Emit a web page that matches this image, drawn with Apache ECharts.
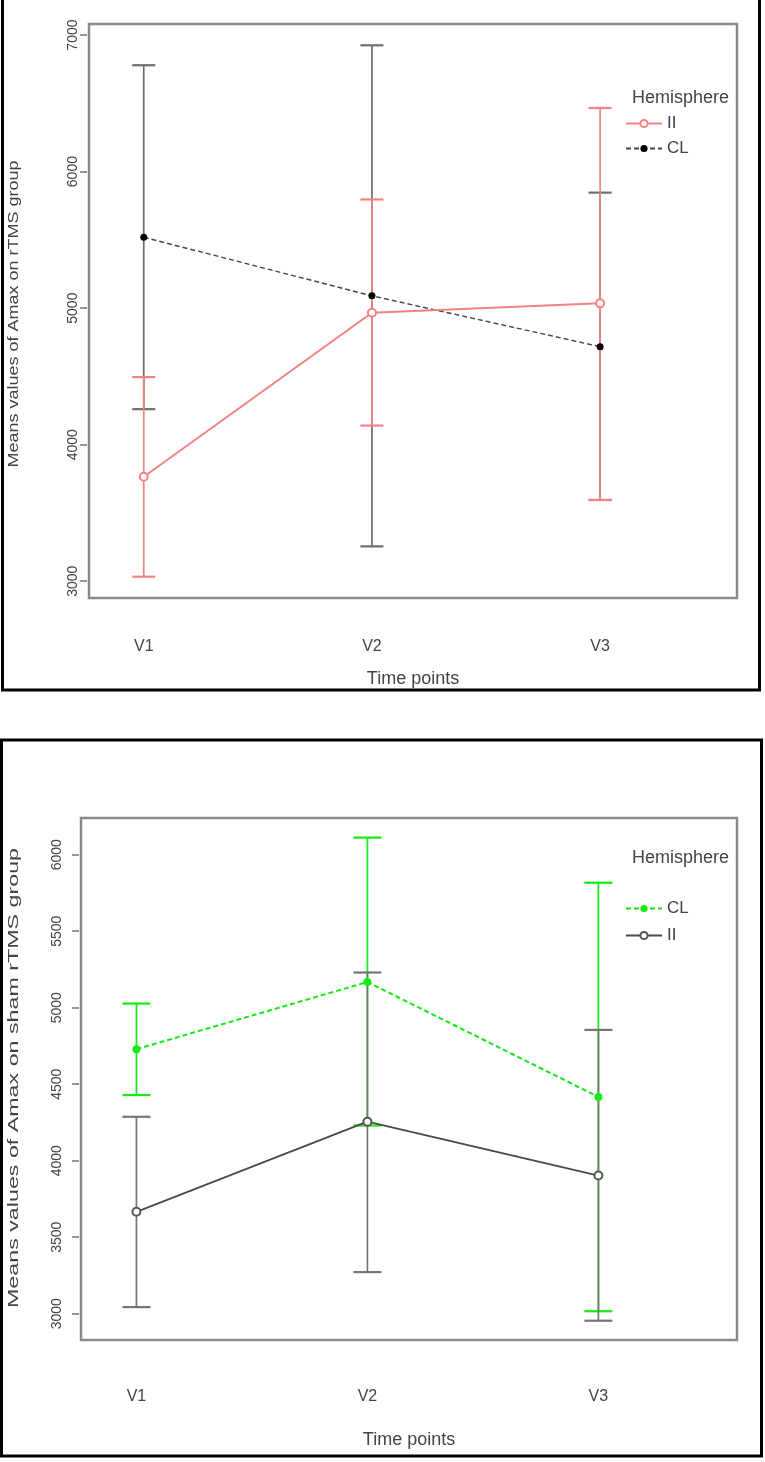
<!DOCTYPE html>
<html>
<head>
<meta charset="utf-8">
<script src="https://cdn.jsdelivr.net/npm/echarts@6/dist/echarts.min.js"></script>
<style>
html,body{margin:0;padding:0;background:#fff;}
#chart{width:765px;height:1462px;}
</style>
</head>
<body>
<div id="chart"></div>
<script>
// ---- data ----
const categories = ['V1', 'V2', 'V3'];
const yTicksTop = [3000, 4000, 5000, 6000, 7000];
const yTicksBottom = [3000, 3500, 4000, 4500, 5000, 5500, 6000];
const titleTop = 'Means values of Amax on rTMS group';
const titleBottom = 'Means values of Amax on sham rTMS group';

// Top panel (rTMS group)
const topII_mean  = [3765, 4966, 5035];
const topII_lower = [3033, 4140, 3595];
const topII_upper = [4495, 5796, 6466];
const topCL_mean  = [5519, 5090, 4718];
const topCL_lower = [4260, 3255, 3595];
const topCL_upper = [6779, 6925, 5846];

// Bottom panel (sham rTMS group)
const botCL_mean  = [4729, 5168, 4417];
const botCL_lower = [4429, 4230, 3016];
const botCL_upper = [5027, 6112, 5817];
const botII_mean  = [3666, 4255, 3903];
const botII_lower = [3043, 3272, 2954];
const botII_upper = [4287, 5230, 4855];

// ---- helpers ----
const FONT = "'Liberation Sans', Arial, sans-serif";
const TXT = '#444';
const PINK = '#F58282';
const GREEN = '#14EA14';

function pts(mean) { return mean.map((v, i) => [i + 1, v]); }
function errRows(lo, hi) { return lo.map((v, i) => [i + 1, v, hi[i]]); }

function errSeries(name, gridIdx, lo, hi, color, hw) {
  return {
    type: 'custom', name: name, xAxisIndex: gridIdx, yAxisIndex: gridIdx,
    data: errRows(lo, hi), encode: { x: 0, y: [1, 2] }, clip: false,
    renderItem: function (params, api) {
      const x = api.value(0), a = api.coord([x, api.value(1)]), b = api.coord([x, api.value(2)]);
      const s = { stroke: color, lineWidth: 1.7, fill: null };
      const c = { stroke: color, lineWidth: 2.2, fill: null };
      return { type: 'group', children: [
        { type: 'line', shape: { x1: a[0], y1: a[1], x2: b[0], y2: b[1] }, style: s },
        { type: 'line', shape: { x1: a[0] - hw, y1: a[1], x2: a[0] + hw, y2: a[1] }, style: c },
        { type: 'line', shape: { x1: b[0] - hw, y1: b[1], x2: b[0] + hw, y2: b[1] }, style: c }
      ]};
    }
  };
}

function xAxisDef(gridIdx, labelMargin, nameGap) {
  return {
    type: 'value', gridIndex: gridIdx, min: 0.76, max: 3.6,
    axisLine: { show: false }, axisTick: { show: false }, splitLine: { show: false },
    axisLabel: { customValues: [1, 2, 3], formatter: v => categories[Math.round(v) - 1] || '',
      fontSize: 16, color: TXT, fontFamily: FONT, margin: labelMargin },
    name: 'Time points', nameLocation: 'middle', nameGap: nameGap,
    nameTextStyle: { fontSize: 18, color: TXT, fontFamily: FONT }
  };
}

function yAxisDef(gridIdx, min, max, ticks, labelMargin) {
  return {
    type: 'value', gridIndex: gridIdx, min: min, max: max, offset: 2,
    axisLine: { show: false }, splitLine: { show: false },
    axisTick: { show: true, customValues: ticks, length: 7, lineStyle: { color: '#777', width: 1.5 } },
    axisLabel: { customValues: ticks, rotate: 90, fontSize: 14, color: TXT, fontFamily: FONT,
      margin: labelMargin, formatter: v => String(v) }
  };
}

function vTitle(text, x, y, scale) {
  return { type: 'text', x: x, y: y, rotation: Math.PI / 2, scaleX: scale, scaleY: 1,
    style: { text: text, x: 0, y: 0, align: 'center', verticalAlign: 'middle',
      fontSize: 15, fill: TXT, fontFamily: FONT } };
}

const chart = echarts.init(document.getElementById('chart'), null, { renderer: 'canvas' });
chart.setOption({
  backgroundColor: '#fff',
  animation: false,
  title: [
    { text: 'Hemisphere', left: 632, top: 89, padding: 0, textStyle: { fontSize: 18, fontWeight: 'normal', color: TXT, fontFamily: FONT } },
    { text: 'Hemisphere', left: 632, top: 849, padding: 0, textStyle: { fontSize: 18, fontWeight: 'normal', color: TXT, fontFamily: FONT } }
  ],
  legend: [
    { orient: 'vertical', left: 625, top: 115, padding: 0, itemWidth: 36, itemHeight: 9, itemGap: 8,
      data: ['II', 'CL'], textStyle: { fontSize: 17, color: TXT, fontFamily: FONT } },
    { orient: 'vertical', left: 625, top: 900, padding: 0, itemWidth: 36, itemHeight: 9, itemGap: 10,
      data: ['CL_sham', 'II_sham'], formatter: n => n.split('_')[0],
      textStyle: { fontSize: 17, color: TXT, fontFamily: FONT } }
  ],
  grid: [
    { left: 89, top: 24, width: 648, height: 574, outerBoundsMode: 'none', containLabel: false,
      show: true, borderColor: '#8a8a8a', borderWidth: 2.5, backgroundColor: 'transparent' },
    { left: 81, top: 818, width: 656, height: 522, outerBoundsMode: 'none', containLabel: false,
      show: true, borderColor: '#8a8a8a', borderWidth: 2.5, backgroundColor: 'transparent' }
  ],
  xAxis: [ xAxisDef(0, 41, 72), xAxisDef(1, 49, 91) ],
  yAxis: [
    yAxisDef(0, 2877, 7081, yTicksTop, 7),
    yAxisDef(1, 2828, 6240, yTicksBottom, 15)
  ],
  graphic: [
    vTitle(titleTop, 14, 314, 1.2),
    vTitle(titleBottom, 14, 1078, 1.55),
    { type: 'rect', shape: { x: 2.5, y: -10, width: 757, height: 700 }, style: { fill: 'none', stroke: '#000', lineWidth: 3 }, z: 100 },
    { type: 'rect', shape: { x: 1.5, y: 740, width: 760, height: 716 }, style: { fill: 'none', stroke: '#000', lineWidth: 3 }, z: 100 }
  ],
  series: [
    errSeries('CL err', 0, topCL_lower, topCL_upper, '#6e6e6e', 11.5),
    errSeries('II err', 0, topII_lower, topII_upper, PINK, 11.5),
    { type: 'line', name: 'CL', xAxisIndex: 0, yAxisIndex: 0, data: pts(topCL_mean),
      symbol: 'circle', symbolSize: 7, itemStyle: { color: '#000' },
      lineStyle: { color: '#444', width: 1.4, type: [5, 3] } },
    { type: 'line', name: 'II', xAxisIndex: 0, yAxisIndex: 0, data: pts(topII_mean),
      symbol: 'emptyCircle', symbolSize: 8, itemStyle: { color: PINK, borderColor: PINK, borderWidth: 1.5 },
      lineStyle: { color: PINK, width: 2 } },

    errSeries('CL err b', 1, botCL_lower, botCL_upper, GREEN, 14),
    errSeries('II err b', 1, botII_lower, botII_upper, '#767676', 14),
    { type: 'line', name: 'CL_sham', xAxisIndex: 1, yAxisIndex: 1, data: pts(botCL_mean),
      symbol: 'circle', symbolSize: 8, itemStyle: { color: GREEN },
      lineStyle: { color: GREEN, width: 2, type: [5, 3] } },
    { type: 'line', name: 'II_sham', xAxisIndex: 1, yAxisIndex: 1, data: pts(botII_mean),
      symbol: 'emptyCircle', symbolSize: 8, itemStyle: { color: '#555', borderColor: '#555', borderWidth: 1.3 },
      lineStyle: { color: '#4a4a4a', width: 1.8 } }
  ]
});
</script>
</body>
</html>
